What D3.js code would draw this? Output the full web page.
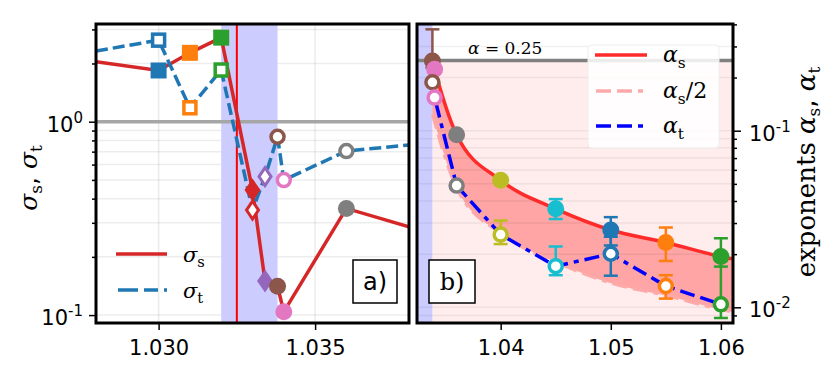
<!DOCTYPE html>
<html>
<head>
<meta charset="utf-8">
<script src="https://cdn.jsdelivr.net/npm/d3@7"></script>
<style>
body { margin: 0; background: #fff; }
</style>
</head>
<body>
<div id="container"></div>
<script>
const width = 830;
const height = 377;

// panel a) data
const muA = [1.028, 1.030, 1.031, 1.032, 1.033, 1.0334, 1.0338, 1.034, 1.036, 1.038];
const sigmaS = [2.04, 1.84, 2.27, 2.72, 0.443, 0.150, 0.141, 0.104, 0.356, 0.286];
const sigmaT = [2.32, 2.64, 1.18, 1.85, 0.349, 0.52, 0.836, 0.499, 0.705, 0.758];
const shapeA = ['', 'square', 'square', 'square', 'diamond', 'diamond', 'circle', 'circle', 'circle', ''];
const colorA = ['', '#1f77b4', '#ff7f0e', '#2ca02c', '#d62728', '#9467bd', '#8c564b', '#e377c2', '#7f7f7f', ''];
const bandA = [1.032, 1.0338];
const muC = 1.0325;
const ticksXA = [1.030, 1.035];

// panel b) data
const muB = [1.0338, 1.034, 1.036, 1.04, 1.045, 1.05, 1.055, 1.06];
const colorB = ['#8c564b', '#e377c2', '#7f7f7f', '#bcbd22', '#17becf', '#1f77b4', '#ff7f0e', '#2ca02c'];
const alphaS = [0.248, 0.223, 0.0949, 0.0524, 0.0361, 0.0274, 0.0233, 0.0194];
const alphaSUp = [0.127, 0, 0, 0.002, 0.0049, 0.005, 0.005, 0.0052];
const alphaSDn = [0.02, 0, 0, 0.002, 0.0045, 0.005, 0.005, 0.0024];
const alphaT = [0.188, 0.154, 0.0489, 0.0258, 0.0171, 0.0201, 0.0132, 0.0104];
const alphaTUp = [0, 0, 0, 0.0052, 0.005, 0.005, 0.002, 0.008];
const alphaTDn = [0, 0, 0, 0.003, 0.0019, 0.005, 0.002, 0.0017];
// smooth alpha_s curve (runs to the right edge)
const fitMu = [1.0338, 1.034, 1.036, 1.04, 1.045, 1.05, 1.055, 1.06, 1.0611];
const fitS = [0.248, 0.223, 0.0949, 0.0524, 0.0361, 0.0274, 0.0233, 0.0194, 0.0188];
const alphaRef = 0.25;
const ticksXB = [1.04, 1.05, 1.06];

const svg = d3.select('#container')
    .append('svg')
    .attr('width', width)
    .attr('height', height)
    .style('background-color', '#fff');

const tickFont = 'DejaVu Sans';
const serif = 'DejaVu Serif';

/* PANEL A */
const pa = {x0: 96, x1: 409, y0: 24, y1: 323};
const xA = d3.scaleLinear().domain([1.028, 1.038]).range([pa.x0, pa.x1]);
const yA = d3.scaleLog().domain([0.091, 3.2]).range([pa.y1, pa.y0]);

svg.append('clipPath').attr('id', 'clipA')
    .append('rect').attr('x', pa.x0).attr('y', pa.y0)
    .attr('width', pa.x1 - pa.x0).attr('height', pa.y1 - pa.y0);

const gA = svg.append('g');
const plotA = gA.append('g').attr('clip-path', 'url(#clipA)');

const minorA = [0.1, 0.2, 0.3, 0.4, 0.5, 0.6, 0.7, 0.8, 0.9, 1, 2, 3];
plotA.selectAll('.hgrid').data(minorA).enter().append('line')
    .attr('x1', pa.x0).attr('x2', pa.x1)
    .attr('y1', d => yA(d)).attr('y2', d => yA(d))
    .attr('stroke', '#000').attr('stroke-opacity', 0.07).attr('stroke-width', 1.5);
plotA.selectAll('.vgrid').data(ticksXA).enter().append('line')
    .attr('x1', d => xA(d)).attr('x2', d => xA(d))
    .attr('y1', pa.y0).attr('y2', pa.y1)
    .attr('stroke', '#000').attr('stroke-opacity', 0.08).attr('stroke-width', 1.5);

plotA.append('rect')
    .attr('x', xA(bandA[0])).attr('width', xA(bandA[1]) - xA(bandA[0]))
    .attr('y', pa.y0).attr('height', pa.y1 - pa.y0)
    .attr('fill', '#ccccff');

plotA.append('line')
    .attr('x1', pa.x0).attr('x2', pa.x1)
    .attr('y1', yA(1)).attr('y2', yA(1))
    .attr('stroke', '#a6a6a6').attr('stroke-width', 3.5);

plotA.append('line')
    .attr('x1', xA(muC)).attr('x2', xA(muC))
    .attr('y1', pa.y0).attr('y2', pa.y1)
    .attr('stroke', '#ff0000').attr('stroke-width', 2);

const lineA = vals => d3.line().x((d, i) => xA(muA[i])).y(d => yA(d))(vals);
plotA.append('path').attr('d', lineA(sigmaS))
    .attr('fill', 'none').attr('stroke', '#d62728').attr('stroke-width', 3.5);
plotA.append('path').attr('d', lineA(sigmaT))
    .attr('fill', 'none').attr('stroke', '#1f77b4').attr('stroke-width', 3.5)
    .attr('stroke-dasharray', '12,5');

function marker(g, shape, x, y, color, hollow) {
    if (shape === 'square') {
        const s = hollow ? 12 : 16;
        g.append('rect').attr('x', x - s / 2).attr('y', y - s / 2).attr('width', s).attr('height', s)
            .attr('fill', hollow ? '#fff' : color)
            .attr('stroke', color).attr('stroke-width', hollow ? 3.5 : 0);
    } else if (shape === 'diamond') {
        const w = hollow ? 6 : 8, h = hollow ? 9 : 11.5;
        g.append('path').attr('d', `M${x},${y - h}L${x + w},${y}L${x},${y + h}L${x - w},${y}Z`)
            .attr('fill', hollow ? '#fff' : color)
            .attr('stroke', color).attr('stroke-width', hollow ? 3 : 0);
    } else if (shape === 'circle') {
        g.append('circle').attr('cx', x).attr('cy', y).attr('r', hollow ? 6.5 : 8.5)
            .attr('fill', hollow ? '#fff' : color)
            .attr('stroke', color).attr('stroke-width', hollow ? 3.5 : 0);
    }
}

muA.forEach((m, i) => {
    if (shapeA[i]) marker(gA, shapeA[i], xA(m), yA(sigmaS[i]), colorA[i], false);
});
muA.forEach((m, i) => {
    if (shapeA[i]) marker(gA, shapeA[i], xA(m), yA(sigmaT[i]), colorA[i], true);
});

// legend a
const legA = gA.append('g');
legA.append('line').attr('x1', 116).attr('x2', 167).attr('y1', 254).attr('y2', 254)
    .attr('stroke', '#d62728').attr('stroke-width', 3.5);
legA.append('line').attr('x1', 118).attr('x2', 167).attr('y1', 290).attr('y2', 290)
    .attr('stroke', '#1f77b4').attr('stroke-width', 3.5).attr('stroke-dasharray', '20,6,14,6');
function greekSub(g, x, y, ch, sub, size) {
    const t = g.append('text').attr('x', x).attr('y', y)
        .style('font-family', serif).style('font-size', size + 'px');
    t.append('tspan').style('font-style', 'italic').text(ch);
    t.append('tspan').attr('dy', size * 0.25).style('font-size', (size * 0.7) + 'px').text(sub);
    return t;
}
greekSub(legA, 183, 262, 'σ', 's', 21);
greekSub(legA, 183, 298, 'σ', 't', 21);

// a) label
gA.append('rect').attr('x', 353).attr('y', 260).attr('width', 44).attr('height', 43)
    .attr('fill', '#fff').attr('stroke', '#000').attr('stroke-width', 1.5);
gA.append('text').attr('x', 375).attr('y', 290).attr('text-anchor', 'middle')
    .style('font-family', tickFont).style('font-size', '24px').text('a)');

// frame + axes a
gA.append('rect').attr('x', pa.x0).attr('y', pa.y0)
    .attr('width', pa.x1 - pa.x0).attr('height', pa.y1 - pa.y0)
    .attr('fill', 'none').attr('stroke', '#000').attr('stroke-width', 3);

function styleAxis(sel) {
    sel.select('.domain').remove();
    sel.selectAll('.tick line').attr('stroke', '#000').attr('stroke-width', 1.5);
    sel.selectAll('.tick text').style('font-family', tickFont).style('font-size', '21px').attr('fill', '#000');
}
function powLabels(sel) {
    sel.selectAll('.tick text').each(function (d) {
        const e = Math.round(Math.log10(d));
        const t = d3.select(this);
        t.text('');
        t.append('tspan').text('10');
        t.append('tspan').attr('dy', -9).style('font-size', '15px').text(e < 0 ? '-' + (-e) : e);
    });
}

gA.append('g').attr('transform', `translate(0,${pa.y1})`)
    .call(d3.axisBottom(xA).tickValues(ticksXA).tickFormat(d3.format('.3f')).tickSize(7).tickPadding(10))
    .call(styleAxis);
gA.append('g').attr('transform', `translate(${pa.x0},0)`)
    .call(d3.axisLeft(yA).tickValues([0.2, 0.3, 0.4, 0.5, 0.6, 0.7, 0.8, 0.9, 2, 3]).tickFormat('').tickSize(4))
    .call(styleAxis);
gA.append('g').attr('transform', `translate(${pa.x0},0)`)
    .call(d3.axisLeft(yA).tickValues([0.1, 1]).tickSize(7).tickPadding(6))
    .call(styleAxis).call(powLabels)
    .selectAll('.tick text').attr('dy', '0.45em');

const labA = svg.append('text').attr('transform', 'translate(37,178) rotate(-90)')
    .attr('text-anchor', 'middle')
    .style('font-family', serif).style('font-size', '25px');
labA.append('tspan').style('font-style', 'italic').text('σ');
labA.append('tspan').attr('dy', 5).style('font-size', '17px').text('s');
labA.append('tspan').attr('dy', -5).style('font-family', tickFont).text(', ');
labA.append('tspan').style('font-style', 'italic').text('σ');
labA.append('tspan').attr('dy', 5).style('font-size', '17px').text('t');

/* PANEL B */
const pb = {x0: 417, x1: 733, y0: 24, y1: 323};
const xB = d3.scaleLinear().domain([1.0324, 1.0611]).range([pb.x0, pb.x1]);
const yB = d3.scaleLog().domain([0.00815, 0.402]).range([pb.y1, pb.y0]);

svg.append('clipPath').attr('id', 'clipB')
    .append('rect').attr('x', pb.x0).attr('y', pb.y0)
    .attr('width', pb.x1 - pb.x0).attr('height', pb.y1 - pb.y0);

const gB = svg.append('g');
const plotB = gB.append('g').attr('clip-path', 'url(#clipB)');

plotB.append('rect')
    .attr('x', xB(muB[0])).attr('width', pb.x1 - xB(muB[0]))
    .attr('y', yB(alphaRef)).attr('height', pb.y1 - yB(alphaRef))
    .attr('fill', '#ff0000').attr('fill-opacity', 0.07);
plotB.append('rect')
    .attr('x', pb.x0).attr('width', xB(bandA[1]) - pb.x0)
    .attr('y', pb.y0).attr('height', pb.y1 - pb.y0)
    .attr('fill', '#ccccff');

const fitPts = fitMu.map((m, i) => [xB(m), yB(fitS[i])]);
const halfPts = fitMu.map((m, i) => [xB(m), yB(fitS[i] / 2)]);
plotB.append('path')
    .attr('d', d3.area().x(d => d[0]).y0((d, i) => halfPts[i][1]).y1(d => d[1]).curve(d3.curveMonotoneX)(fitPts))
    .attr('fill', '#ff0000').attr('fill-opacity', 0.3);

const minorB = [0.009, 0.01, 0.02, 0.03, 0.04, 0.05, 0.06, 0.07, 0.08, 0.09, 0.1, 0.2, 0.3, 0.4];
plotB.selectAll('.hgrid').data(minorB).enter().append('line')
    .attr('x1', pb.x0).attr('x2', pb.x1)
    .attr('y1', d => yB(d)).attr('y2', d => yB(d))
    .attr('stroke', '#000').attr('stroke-opacity', 0.06).attr('stroke-width', 1.5);

plotB.append('line')
    .attr('x1', pb.x0).attr('x2', pb.x1)
    .attr('y1', yB(alphaRef)).attr('y2', yB(alphaRef))
    .attr('stroke', '#808080').attr('stroke-width', 3.5);
gB.append('text').attr('x', 468).attr('y', 54)
    .style('font-family', serif).style('font-size', '17px')
    .html('<tspan font-style="italic">α</tspan> = 0.25');

const smooth = d3.line().curve(d3.curveMonotoneX);
plotB.append('path').attr('d', smooth(halfPts))
    .attr('fill', 'none').attr('stroke', '#ffaaaa').attr('stroke-width', 3)
    .attr('stroke-dasharray', '15,6,15,6,5,6');
plotB.append('path').attr('d', smooth(fitPts))
    .attr('fill', 'none').attr('stroke', '#ff2a2a').attr('stroke-width', 3.5);
plotB.append('path')
    .attr('d', d3.line().x((d, i) => xB(muB[i])).y(d => yB(d))(alphaT))
    .attr('fill', 'none').attr('stroke', '#0000ff').attr('stroke-width', 3.5)
    .attr('stroke-dasharray', '15,6,15,6,5,6');

function errbar(g, x, v, up, dn, color) {
    if (!up && !dn) return;
    const yt = yB(v + up), yb = yB(v - dn);
    g.append('line').attr('x1', x).attr('x2', x).attr('y1', yt).attr('y2', yb)
        .attr('stroke', color).attr('stroke-width', 2.5);
    [yt, yb].forEach(yy => g.append('line').attr('x1', x - 7).attr('x2', x + 7)
        .attr('y1', yy).attr('y2', yy).attr('stroke', color).attr('stroke-width', 2.5));
}
muB.forEach((m, i) => {
    errbar(gB, xB(m), alphaS[i], alphaSUp[i], alphaSDn[i], colorB[i]);
    errbar(gB, xB(m), alphaT[i], alphaTUp[i], alphaTDn[i], colorB[i]);
});
muB.forEach((m, i) => marker(gB, 'circle', xB(m), yB(alphaS[i]), colorB[i], false));
muB.forEach((m, i) => marker(gB, 'circle', xB(m), yB(alphaT[i]), colorB[i], true));

// legend b
const legB = gB.append('g');
legB.append('rect').attr('x', 588).attr('y', 45).attr('width', 131).attr('height', 103).attr('rx', 4)
    .attr('fill', '#fff').attr('fill-opacity', 0.85).attr('stroke', '#eee').attr('stroke-width', 1);
legB.append('line').attr('x1', 595).attr('x2', 647).attr('y1', 55).attr('y2', 55)
    .attr('stroke', '#ff2a2a').attr('stroke-width', 3.5);
legB.append('line').attr('x1', 596).attr('x2', 646).attr('y1', 91).attr('y2', 91)
    .attr('stroke', '#ffaaaa').attr('stroke-width', 3.5).attr('stroke-dasharray', '15,6,15,6,5,6');
legB.append('line').attr('x1', 596).attr('x2', 646).attr('y1', 126).attr('y2', 126)
    .attr('stroke', '#0000ff').attr('stroke-width', 3.5).attr('stroke-dasharray', '15,6,15,6,5,6');
greekSub(legB, 663, 62, 'α', 's', 22);
const half = greekSub(legB, 663, 98, 'α', 's', 22);
half.append('tspan').attr('dy', -5.5).text('/2');
greekSub(legB, 663, 133, 'α', 't', 22);

// b) label
gB.append('rect').attr('x', 429).attr('y', 260).attr('width', 46).attr('height', 43)
    .attr('fill', '#fff').attr('stroke', '#000').attr('stroke-width', 1.5);
gB.append('text').attr('x', 452).attr('y', 290).attr('text-anchor', 'middle')
    .style('font-family', serif).style('font-size', '24px').text('b)');

// frame + axes b
gB.append('rect').attr('x', pb.x0).attr('y', pb.y0)
    .attr('width', pb.x1 - pb.x0).attr('height', pb.y1 - pb.y0)
    .attr('fill', 'none').attr('stroke', '#000').attr('stroke-width', 3);

gB.append('g').attr('transform', `translate(0,${pb.y1})`)
    .call(d3.axisBottom(xB).tickValues(ticksXB).tickFormat(d3.format('.2f')).tickSize(7).tickPadding(10))
    .call(styleAxis);
gB.append('g').attr('transform', `translate(${pb.x1},0)`)
    .call(d3.axisRight(yB).tickValues([0.009, 0.02, 0.03, 0.04, 0.05, 0.06, 0.07, 0.08, 0.09, 0.2, 0.3, 0.4]).tickFormat('').tickSize(4))
    .call(styleAxis);
gB.append('g').attr('transform', `translate(${pb.x1},0)`)
    .call(d3.axisRight(yB).tickValues([0.01, 0.1]).tickSize(8).tickPadding(8))
    .call(styleAxis).call(powLabels)
    .selectAll('.tick text').attr('dy', '0.45em');

const labB = svg.append('text').attr('transform', 'translate(815,172) rotate(-90)')
    .attr('text-anchor', 'middle')
    .style('font-family', serif).style('font-size', '26px');
labB.append('tspan').text('exponents ');
labB.append('tspan').style('font-style', 'italic').text('α');
labB.append('tspan').attr('dy', 5).style('font-size', '17px').text('s');
labB.append('tspan').attr('dy', -5).style('font-family', tickFont).text(', ');
labB.append('tspan').style('font-style', 'italic').text('α');
labB.append('tspan').attr('dy', 5).style('font-size', '17px').text('t');
</script>
</body>
</html>
